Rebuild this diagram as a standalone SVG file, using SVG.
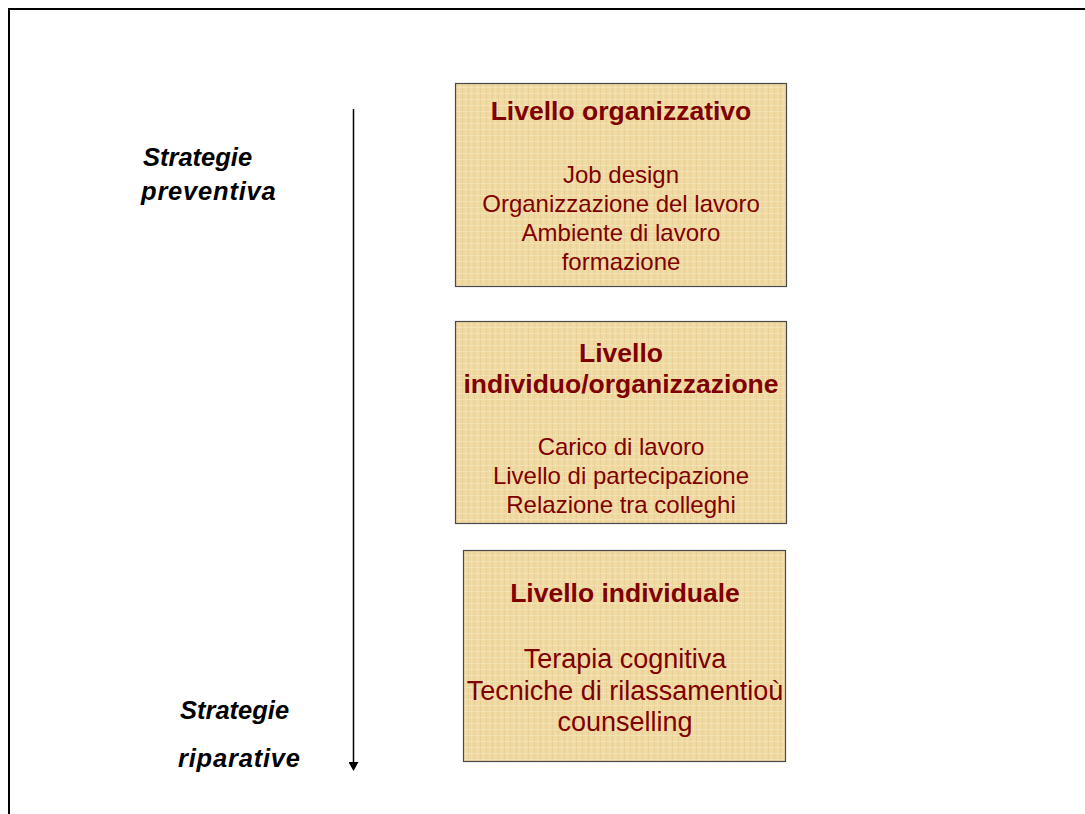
<svg xmlns="http://www.w3.org/2000/svg" width="1085" height="814" viewBox="0 0 1085 814">
  <style>
    .box { stroke: #4a4a4a; stroke-width: 1.2; }
    .title { font-family: "Liberation Sans", Arial, sans-serif; font-weight: bold; font-size: 26.5px; fill: #7f0000; text-anchor: middle; }
    .body { font-family: "Liberation Sans", Arial, sans-serif; font-size: 24px; fill: #7f0000; text-anchor: middle; }
    .body-lg { font-family: "Liberation Sans", Arial, sans-serif; font-size: 27px; fill: #7f0000; text-anchor: middle; }
    .side { font-family: "Liberation Sans", Arial, sans-serif; font-weight: bold; font-style: italic; font-size: 25.5px; fill: #000; }
    .wide { letter-spacing: 0.8px; }
  </style>
  <defs>
    <!-- woven paper texture for the level boxes -->
    <pattern id="weave" width="6" height="6" patternUnits="userSpaceOnUse">
      <rect width="6" height="6" fill="#efd9a2"/>
      <rect x="0" y="0" width="1" height="6" fill="#e3c98d" opacity="0.6"/>
      <rect x="0" y="3" width="6" height="1" fill="#f6e6bd" opacity="0.7"/>
      <rect x="3" y="0" width="1" height="6" fill="#f5e4b8" opacity="0.5"/>
    </pattern>
    <marker id="arrow" markerWidth="10" markerHeight="10" refX="0" refY="5" orient="auto" markerUnits="userSpaceOnUse">
      <path d="M0,0 L9,5 L0,10 Z" fill="#000"/>
    </marker>
  </defs>

  <rect width="1085" height="814" fill="#fff"/>
  <!-- outer frame (open at right and bottom) -->
  <rect x="9" y="9" width="1100" height="900" fill="none" stroke="#000" stroke-width="2"/>

  <g id="connectors">
    <line x1="353.5" y1="109" x2="353.5" y2="762" stroke="#000" stroke-width="1.5" marker-end="url(#arrow)"/>
  </g>

  <g id="label-preventive">
    <text class="side" x="143" y="166">Strategie</text>
    <text class="side wide" x="141" y="200">preventiva</text>
  </g>

  <g id="label-reparative">
    <text class="side" x="180" y="719">Strategie</text>
    <text class="side wide" x="178" y="767">riparative</text>
  </g>

  <g id="node-organizzativo">
    <rect class="box" x="455.5" y="83.5" width="331" height="203" fill="url(#weave)"/>
    <text class="title" x="621" y="120">Livello organizzativo</text>
    <text class="body" x="621" y="183">Job design</text>
    <text class="body" x="621" y="212">Organizzazione del lavoro</text>
    <text class="body" x="621" y="241">Ambiente di lavoro</text>
    <text class="body" x="621" y="270">formazione</text>
  </g>

  <g id="node-individuo-organizzazione">
    <rect class="box" x="455.5" y="321.5" width="331" height="202" fill="url(#weave)"/>
    <text class="title" x="621" y="362">Livello</text>
    <text class="title" x="621" y="393">individuo/organizzazione</text>
    <text class="body" x="621" y="455">Carico di lavoro</text>
    <text class="body" x="621" y="484">Livello di partecipazione</text>
    <text class="body" x="621" y="513">Relazione tra colleghi</text>
  </g>

  <g id="node-individuale">
    <rect class="box" x="463.5" y="550.5" width="322" height="211" fill="url(#weave)"/>
    <text class="title" x="625" y="602">Livello individuale</text>
    <text class="body-lg" x="625" y="668">Terapia cognitiva</text>
    <text class="body-lg" x="625" y="700">Tecniche di rilassamentioù</text>
    <text class="body-lg" x="625" y="731">counselling</text>
  </g>
</svg>
